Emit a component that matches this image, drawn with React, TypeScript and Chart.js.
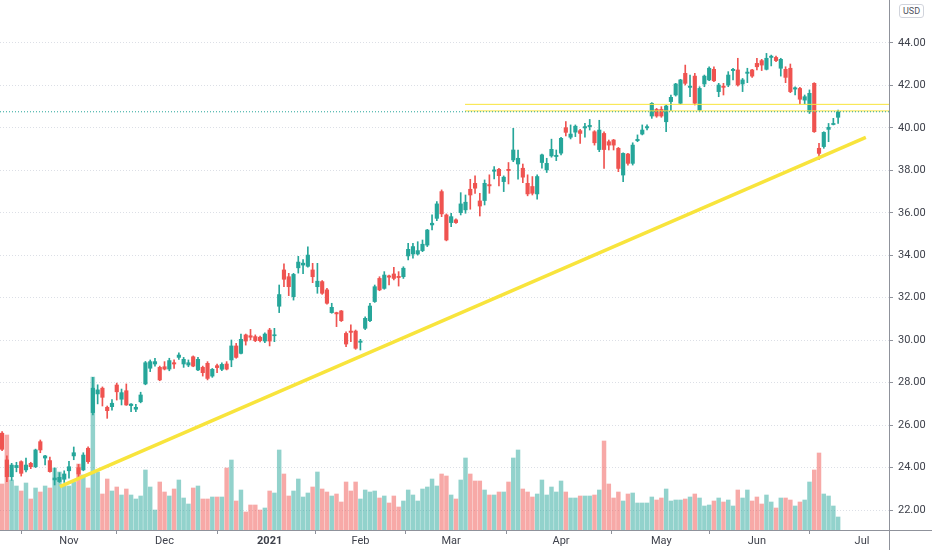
import React, { useEffect, useRef } from "react";
import { Chart, registerables } from "chart.js";

Chart.register(...registerables);

// ---- data (one bar per trading day, index 0 = first visible session) ----
const open = [
  25.62, 24.36, 23.57, 24.0, 24.28, 23.89, 24.2, 24.04, 25.22, 24.45,
  24.33, 23.42, 23.34, 23.45, 23.85, 24.55, 24.0, 23.89, 24.91, 26.59,
  27.47, 27.74, 26.84, 26.87, 27.89, 27.22, 27.62, 26.92, 26.75, 27.1,
  27.94, 28.68, 28.88, 28.72, 28.75, 28.64, 28.94, 29.19, 28.88, 28.83,
  29.22, 28.6, 28.72, 28.91, 28.31, 28.8, 28.63, 28.88, 29.07, 29.73,
  29.38, 30.25, 30.21, 30.17, 30.14, 29.96, 30.48, 30.21, 31.6, 33.31,
  32.99, 32.05, 33.41, 33.54, 33.48, 33.31, 32.52, 32.76, 32.37, 31.3,
  31.3, 31.38, 30.32, 30.43, 30.43, 29.9, 30.56, 30.92, 31.82, 32.91,
  32.44, 33.03, 33.12, 33.01, 32.99, 33.97, 34.06, 34.06, 34.22, 34.48,
  35.43, 35.74, 37.0, 35.9, 35.54, 35.67, 36.01, 36.14, 37.11, 37.39,
  36.56, 36.58, 37.33, 37.96, 38.05, 37.47, 38.05, 38.49, 38.3, 38.1,
  37.39, 37.24, 36.89, 38.37, 38.02, 38.68, 38.65, 38.81, 40.01, 39.56,
  39.8, 39.87, 40.0, 40.06, 39.82, 38.98, 39.74, 39.35, 39.43, 39.04,
  37.78, 38.77, 38.33, 39.4, 39.71, 40.0, 40.56, 40.87, 40.87, 40.29,
  41.24, 41.55, 41.16, 42.57, 41.91, 42.44, 40.84, 42.07, 42.26, 42.76,
  41.71, 41.97, 42.02, 42.7, 42.73, 42.07, 42.57, 42.73, 43.04, 43.17,
  42.76, 43.32, 43.32, 42.81, 42.76, 42.81, 41.83, 41.86, 41.31, 40.76,
  42.1, 39.04, 39.12, 39.93, 40.16, 40.5,
];
const high = [
  25.7, 24.55, 24.2, 24.25, 24.32, 24.45, 24.25, 24.87, 25.3, 24.58,
  24.5, 23.98, 23.76, 23.85, 24.3, 24.97, 24.15, 24.7, 24.98, 28.25,
  27.9, 27.8, 26.9, 27.2, 27.98, 27.7, 27.94, 27.02, 26.98, 27.55,
  29.0, 29.07, 29.15, 28.78, 28.99, 29.15, 29.07, 29.41, 29.19, 29.07,
  29.26, 29.19, 28.78, 28.99, 28.67, 28.88, 28.94, 28.99, 30.01, 29.85,
  30.29, 30.29, 30.51, 30.25, 30.2, 30.35, 30.56, 30.56, 32.6, 33.6,
  33.15, 33.15, 33.95, 33.8, 34.4, 33.62, 33.62, 32.81, 32.44, 31.74,
  31.32, 31.4, 30.4, 30.72, 30.48, 30.04, 31.1, 31.74, 32.6, 32.99,
  33.23, 33.07, 33.43, 33.23, 33.46, 34.56, 34.56, 34.64, 34.72, 35.22,
  35.9, 36.53, 37.08, 35.95, 35.98, 35.72, 36.95, 36.84, 37.58, 37.74,
  36.92, 37.55, 37.79, 38.18, 38.1, 37.74, 38.37, 39.98, 38.96, 38.3,
  37.79, 37.71, 37.79, 38.77, 38.57, 39.47, 38.96, 39.56, 40.3, 40.14,
  40.14, 39.93, 40.21, 40.4, 39.87, 40.36, 39.82, 39.43, 39.46, 39.08,
  38.83, 38.8, 39.3, 39.67, 40.14, 40.14, 41.19, 40.92, 41.0, 41.08,
  41.55, 42.1, 42.29, 42.96, 42.49, 42.57, 41.94, 42.49, 42.88, 42.88,
  42.1, 42.1, 42.65, 42.81, 43.28, 42.33, 42.81, 42.76, 43.28, 43.23,
  43.51, 43.43, 43.38, 43.28, 42.88, 43.01, 41.94, 41.91, 41.55, 41.79,
  42.13, 39.27, 39.82, 40.21, 40.45, 40.84,
];
const low = [
  24.8, 23.34, 23.4, 23.8, 23.6, 23.8, 23.95, 24.0, 24.7, 24.12,
  23.78, 23.18, 23.3, 23.3, 23.5, 24.37, 23.55, 23.85, 24.2, 26.48,
  27.0, 26.9, 26.32, 26.7, 27.18, 26.95, 26.93, 26.63, 26.63, 27.05,
  27.9, 28.52, 28.78, 28.09, 28.6, 28.56, 28.67, 29.1, 28.72, 28.75,
  28.75, 28.56, 28.31, 28.13, 28.25, 28.47, 28.56, 28.6, 28.75, 29.15,
  29.35, 29.77, 30.01, 29.93, 29.92, 29.88, 29.73, 29.93, 31.3, 32.52,
  32.1, 31.89, 33.16, 33.13, 33.44, 32.71, 32.21, 32.16, 31.7, 31.27,
  30.64, 30.88, 29.7, 29.93, 29.57, 29.54, 30.5, 30.87, 31.78, 32.33,
  32.4, 32.6, 32.84, 32.55, 32.91, 33.78, 33.86, 34.01, 34.17, 34.41,
  35.19, 35.63, 35.82, 34.68, 35.35, 35.5, 35.9, 35.98, 36.17, 36.92,
  35.85, 36.37, 36.92, 37.6, 37.27, 37.0, 37.36, 38.41, 37.58, 37.42,
  36.8, 36.84, 36.64, 38.1, 37.9, 38.62, 38.46, 38.73, 39.62, 39.48,
  39.59, 39.27, 39.56, 39.9, 39.19, 38.88, 38.09, 38.96, 38.96, 37.94,
  37.47, 38.25, 38.25, 39.35, 39.67, 39.9, 40.45, 40.5, 40.5, 39.82,
  40.81, 41.5, 41.13, 42.02, 41.47, 41.08, 40.81, 41.94, 42.22, 42.18,
  41.47, 41.55, 41.94, 42.26, 41.97, 41.71, 42.13, 42.38, 42.73, 42.7,
  42.73, 42.92, 43.12, 42.44, 42.13, 41.66, 41.55, 41.13, 41.13, 40.68,
  39.79, 38.52, 39.04, 39.35, 40.14, 40.21,
];
const close = [
  24.86, 23.57, 24.12, 24.1, 23.73, 24.12, 24.04, 24.83, 24.83, 24.55,
  23.81, 23.51, 23.54, 23.7, 24.04, 24.7, 23.7, 24.59, 24.28, 27.74,
  27.66, 27.31, 26.68, 27.03, 27.57, 27.53, 26.95, 26.99, 26.84, 27.42,
  28.94, 28.99, 28.99, 28.13, 28.64, 29.04, 28.88, 29.3, 29.1, 28.94,
  28.78, 29.1, 28.47, 28.2, 28.63, 28.71, 28.86, 28.64, 29.73, 29.19,
  30.04, 29.96, 30.14, 29.98, 29.98, 30.29, 29.96, 30.25, 32.15, 32.87,
  32.52, 33.1, 33.68, 33.63, 34.01, 32.99, 32.78, 32.21, 31.74, 31.55,
  31.24, 30.92, 29.82, 30.37, 29.62, 29.96, 31.03, 31.61, 32.52, 32.37,
  33.07, 32.97, 32.91, 32.95, 33.39, 34.28, 34.41, 34.22, 34.52, 35.19,
  35.51, 36.42, 35.95, 34.72, 35.82, 35.54, 36.42, 36.5, 36.84, 37.16,
  36.32, 37.39, 37.27, 38.02, 37.75, 37.68, 37.99, 38.96, 38.57, 37.68,
  36.89, 36.92, 37.71, 38.73, 38.33, 38.99, 38.71, 39.51, 39.79, 39.71,
  40.08, 39.74, 40.06, 40.12, 39.3, 39.9, 38.98, 39.19, 39.19, 38.09,
  38.8, 38.33, 39.19, 39.46, 39.9, 40.06, 41.16, 40.56, 40.56, 41.03,
  41.44, 42.07, 42.26, 42.1, 41.97, 41.16, 41.86, 42.44, 42.81, 42.22,
  42.02, 41.91, 42.49, 42.76, 42.02, 42.26, 42.63, 42.44, 42.88, 42.96,
  43.28, 43.38, 43.17, 43.23, 42.38, 41.71, 41.89, 41.35, 41.47, 41.63,
  39.82, 38.8, 39.79, 40.03, 40.21, 40.76,
];
// volume in millions
const volume = [
  4.6, 9.5, 5.0, 4.4, 3.9, 4.7, 3.1, 4.2, 3.8, 4.4,
  4.2, 6.2, 5.8, 4.4, 4.4, 4.8, 6.6, 5.5, 4.2, 15.3,
  5.8, 3.6, 5.1, 3.9, 4.3, 3.5, 4.1, 3.5, 3.1, 3.4,
  6.0, 4.3, 2.0, 4.8, 3.8, 3.4, 4.1, 5.0, 3.2, 2.6,
  4.2, 4.4, 3.1, 3.1, 3.3, 3.3, 3.3, 6.2, 7.0, 2.9,
  4.0, 1.8, 2.5, 2.5, 2.0, 2.2, 3.9, 3.7, 8.0, 5.6,
  3.4, 3.9, 5.1, 3.3, 3.7, 4.3, 5.8, 4.1, 3.8, 3.4,
  3.6, 2.8, 4.8, 3.9, 4.8, 3.1, 4.0, 3.8, 3.9, 3.2,
  3.4, 2.7, 3.4, 2.3, 2.9, 4.0, 3.5, 2.9, 4.1, 4.3,
  5.1, 4.4, 5.6, 5.4, 3.5, 3.1, 5.0, 7.2, 5.6, 4.9,
  4.9, 4.0, 3.5, 3.5, 3.8, 3.8, 4.8, 7.2, 8.0, 4.1,
  3.8, 3.3, 3.6, 5.0, 3.5, 4.3, 3.8, 4.9, 3.8, 3.2,
  3.2, 3.4, 3.4, 3.4, 3.5, 4.0, 8.9, 4.6, 3.2, 3.8,
  2.9, 3.6, 3.7, 2.7, 2.7, 2.7, 3.3, 3.0, 3.2, 4.1,
  2.9, 3.0, 3.0, 3.1, 3.3, 3.6, 3.2, 2.4, 2.5, 2.9,
  3.2, 2.8, 3.0, 2.4, 4.0, 3.2, 4.0, 2.9, 3.3, 2.6,
  3.5, 2.8, 2.2, 3.2, 3.2, 3.0, 2.4, 2.8, 3.0, 4.8,
  6.0, 7.7, 3.6, 3.4, 2.4, 1.3,
];

// x-axis: index of the first session of each month and its label
const monthTickIndex = [14, 34, 56, 75, 94, 117, 138, 158, 180];
const monthTickLabel = ["Nov", "Dec", "2021", "Feb", "Mar", "Apr", "May", "Jun", "Jul"];
const boldTickLabel = "2021";
const priceTicks = [22, 24, 26, 28, 30, 32, 34, 36, 38, 40, 42, 44];

// drawings
const trendLine = [
  { x: 12.1, y: 23.1 },
  { x: 180.8, y: 39.55 },
];
const zoneStartIndex = 96.9;
const zoneLevels = [41.11, 40.8];

// view range
const X_MIN = -0.44;
const X_MAX = 185.65;
const Y_MIN = 21.06;
const Y_MAX = 46.025;
const VOL_AXIS_MAX = 53;

const UP = "#26a69a";
const DOWN = "#ef5350";
const UP_VOL = "rgba(38,166,154,0.5)";
const DOWN_VOL = "rgba(239,83,80,0.5)";
const YELLOW = "#f8e43c";
const TEXT = "#3e414b";
const AXIS = "#8f929b";
const FONT = "Roboto, 'Noto Sans', sans-serif";

const framePlugin = {
  id: "frame",
  afterDraw(chart: any) {
    const { ctx, chartArea, width, height } = chart;
    const yb = Math.round(chartArea.bottom) + 0.5;
    const xr = Math.round(chartArea.right) + 0.5;
    ctx.save();
    ctx.strokeStyle = AXIS;
    ctx.lineWidth = 1;
    ctx.beginPath();
    ctx.moveTo(0, yb);
    ctx.lineTo(width, yb);
    ctx.moveTo(xr, 0);
    ctx.lineTo(xr, height);
    ctx.stroke();
    ctx.restore();
  },
};

export default function App() {
  const ref = useRef<HTMLCanvasElement | null>(null);

  useEffect(() => {
    if (!ref.current) return;
    const idx = close.map((_, i) => i);
    const up = idx.map((i) => close[i] >= open[i]);
    const last = close[close.length - 1];

    const chart = new Chart(ref.current, {
      type: "bar",
      data: {
        datasets: [
          {
            type: "line",
            data: [
              { x: X_MIN, y: last },
              { x: X_MAX, y: last },
            ],
            borderColor: UP,
            borderWidth: 1,
            borderDash: [1, 2],
            pointRadius: 0,
            yAxisID: "y",
            order: 0,
          } as any,
          ...zoneLevels.map(
            (lv) =>
              ({
                type: "line",
                data: [
                  { x: zoneStartIndex, y: lv },
                  { x: X_MAX, y: lv },
                ],
                borderColor: YELLOW,
                borderWidth: 1,
                pointRadius: 0,
                yAxisID: "y",
                order: 1,
              } as any)
          ),
          {
            type: "line",
            data: trendLine,
            borderColor: YELLOW,
            borderWidth: 3.5,
            pointRadius: 0,
            yAxisID: "y",
            order: 1,
          } as any,
          {
            type: "bar",
            data: idx.map((i) => ({
              x: i,
              y: [Math.min(open[i], close[i]), Math.max(open[i], close[i])],
            })),
            backgroundColor: idx.map((i) => (up[i] ? UP : DOWN)),
            barThickness: 3.5,
            minBarLength: 1,
            grouped: false,
            yAxisID: "y",
            order: 2,
          } as any,
          {
            type: "bar",
            data: idx.map((i) => ({ x: i, y: [low[i], high[i]] })),
            backgroundColor: idx.map((i) => (up[i] ? UP : DOWN)),
            barThickness: 1,
            grouped: false,
            yAxisID: "y",
            order: 3,
          } as any,
          {
            type: "bar",
            data: idx.map((i) => ({ x: i, y: volume[i] })),
            backgroundColor: idx.map((i) => (up[i] ? UP_VOL : DOWN_VOL)),
            barThickness: 3.8,
            grouped: false,
            yAxisID: "yv",
            order: 4,
          } as any,
        ],
      },
      options: {
        animation: false,
        responsive: true,
        maintainAspectRatio: false,
        layout: { padding: 0 },
        plugins: {
          legend: { display: false },
          tooltip: { enabled: false },
        },
        events: [],
        scales: {
          x: {
            type: "linear",
            min: X_MIN,
            max: X_MAX,
            offset: false,
            afterBuildTicks: (s: any) => {
              s.ticks = monthTickIndex.map((v) => ({ value: v }));
            },
            afterFit: (s: any) => {
              s.height = 20;
              s.paddingLeft = 0;
              s.paddingRight = 0;
            },
            ticks: {
              autoSkip: false,
              maxRotation: 0,
              padding: 1,
              color: TEXT,
              font: (ctx: any) => {
                const k = ctx.tick ? monthTickIndex.indexOf(ctx.tick.value) : -1;
                const bold = k >= 0 && monthTickLabel[k] === boldTickLabel;
                return { family: FONT, size: 11, weight: bold ? "bold" : "normal" };
              },
              callback: (v: any) => {
                const k = monthTickIndex.indexOf(Number(v));
                return k >= 0 ? monthTickLabel[k] : "";
              },
            },
            grid: {
              drawOnChartArea: false,
              drawTicks: true,
              tickLength: 4,
              tickColor: AXIS,
              color: AXIS,
            },
            border: { display: false },
          } as any,
          y: {
            type: "linear",
            position: "right",
            min: Y_MIN,
            max: Y_MAX,
            afterBuildTicks: (s: any) => {
              s.ticks = priceTicks.map((v) => ({ value: v }));
            },
            afterFit: (s: any) => {
              s.width = 43;
              s.paddingTop = 0;
              s.paddingBottom = 0;
            },
            ticks: {
              color: TEXT,
              padding: 5,
              font: { family: FONT, size: 11 },
              callback: (v: any) => Number(v).toFixed(2),
            },
            grid: {
              color: "#dcdfe6",
              lineWidth: 1,
              drawTicks: true,
              tickLength: 4,
              tickColor: AXIS,
            },
            border: { display: false, dash: [1, 2] },
          } as any,
          yv: {
            type: "linear",
            display: false,
            min: 0,
            max: VOL_AXIS_MAX,
          },
        },
      },
      plugins: [framePlugin],
    });
    return () => chart.destroy();
  }, []);

  return (
    <div
      style={{
        position: "fixed",
        left: 0,
        top: 0,
        width: 932,
        height: 550,
        background: "#ffffff",
      }}
    >
      <canvas ref={ref} />
      <div
        style={{
          position: "absolute",
          left: 899,
          top: 4,
          width: 25,
          height: 14,
          border: "1px solid #d1d4dc",
          borderRadius: 3,
          boxSizing: "border-box",
          fontFamily: FONT,
          fontSize: 9,
          lineHeight: "12px",
          color: "#50535e",
          textAlign: "center",
          background: "#fff",
        }}
      >
        USD
      </div>
    </div>
  );
}
